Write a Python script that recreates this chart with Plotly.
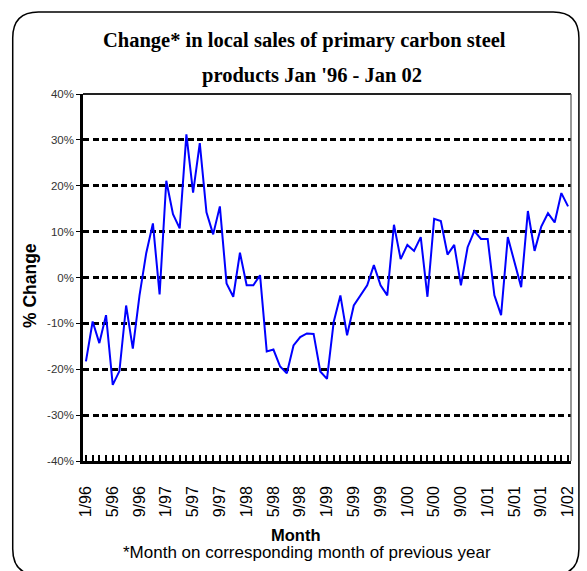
import plotly.graph_objects as go

# monthly % change, Jan 1996 .. Jan 2002 (73 months)
change = [
    -18.3, -9.6, -14.3, -8.2, -23.4, -20.4, -6.1, -15.5, -3.9, 5.3, 11.8, -3.7,
    21.1, 13.8, 10.7, 31.2, 18.5, 29.3, 14.2, 9.4, 15.5, -1.3, -4.2, 5.4,
    -1.7, -1.7, 0.5, -16.1, -15.7, -19.4, -20.9, -14.8, -13.0, -12.2, -12.3, -20.5,
    -22.1, -9.7, -3.9, -12.6, -6.1, -3.9, -1.7, 2.7, -1.7, -3.9, 11.5, 4.0,
    7.1, 5.8, 8.8, -4.2, 12.8, 12.3, 5.0, 7.1, -1.7, 6.6, 10.1, 8.4,
    8.4, -3.9, -8.2, 8.8, 3.4, -2.1, 14.5, 5.8, 11.1, 14.0, 12.0, 18.4, 15.5,
]
months = list(range(len(change)))
tick_idx = list(range(0, 73, 4))
tick_labels = ["1/96", "5/96", "9/96", "1/97", "5/97", "9/97", "1/98", "5/98", "9/98",
               "1/99", "5/99", "9/99", "1/00", "5/00", "9/00", "1/01", "5/01", "9/01", "1/02"]
y_ticks = [-40, -30, -20, -10, 0, 10, 20, 30, 40]
y_labels = ["-40%", "-30%", "-20%", "-10%", "0%", "10%", "20%", "30%", "40%"]

W, H = 587, 571
L, R, T, B = 83, 11, 94, 110
pw, ph = W - L - R, H - T - B

def px(x):
    return (x - L) / pw

def py(y):
    return (H - B - y) / ph

fig = go.Figure()
fig.add_trace(go.Scatter(x=months, y=change, mode="lines",
                         line=dict(color="#0000FF", width=2), showlegend=False))

# rounded outer frame
x0, x1, y0, y1, r = 12, 584, 12, 575, 26
path = (f"M {px(x0+r)},{py(y0)} L {px(x1-r)},{py(y0)} Q {px(x1)},{py(y0)} {px(x1)},{py(y0+r)} "
        f"L {px(x1)},{py(y1-r)} Q {px(x1)},{py(y1)} {px(x1-r)},{py(y1)} "
        f"L {px(x0+r)},{py(y1)} Q {px(x0)},{py(y1)} {px(x0)},{py(y1-r)} "
        f"L {px(x0)},{py(y0+r)} Q {px(x0)},{py(y0)} {px(x0+r)},{py(y0)} Z")
shapes = [
    dict(type="path", path=path, xref="paper", yref="paper", line=dict(color="black", width=1.5)),
    dict(type="line", xref="paper", yref="paper", x0=0, x1=1, y0=1, y1=1, line=dict(color="#222", width=2)),
    dict(type="line", xref="paper", yref="paper", x0=1, x1=1, y0=0, y1=1, line=dict(color="#555", width=1.2)),
]

annotations = [
    dict(text="<b>Change* in local sales of primary carbon steel</b>", x=px(307), y=py(40),
         xref="paper", yref="paper", showarrow=False, xanchor="center", yanchor="middle",
         font=dict(family="Liberation Serif", size=20.5, color="black")),
    dict(text="<b>products Jan '96 - Jan 02</b>", x=px(314), y=py(75),
         xref="paper", yref="paper", showarrow=False, xanchor="center", yanchor="middle",
         font=dict(family="Liberation Serif", size=20.5, color="black")),
    dict(text="<b>% Change</b>", x=px(29.5), y=py(286), textangle=-90,
         xref="paper", yref="paper", showarrow=False, xanchor="center", yanchor="middle",
         font=dict(family="Liberation Sans", size=17.5, color="black")),
    dict(text="<b>Month</b>", x=px(298), y=py(535),
         xref="paper", yref="paper", showarrow=False, xanchor="center", yanchor="middle",
         font=dict(family="Liberation Sans", size=16.5, color="black")),
    dict(text="*Month on corresponding month of previous year", x=px(309), y=py(552),
         xref="paper", yref="paper", showarrow=False, xanchor="center", yanchor="middle",
         font=dict(family="Liberation Sans", size=17, color="black")),
]

fig.update_layout(
    width=W, height=H, margin=dict(l=L, r=R, t=T, b=B),
    paper_bgcolor="white", plot_bgcolor="white",
    shapes=shapes, annotations=annotations,
    xaxis=dict(range=[-0.44, 72.44], tickvals=tick_idx, ticktext=tick_labels, tickangle=-90,
               ticks="inside", ticklen=6, tickwidth=1.5, tickcolor="black", ticklabelstandoff=16,
               minor=dict(tickmode="array", tickvals=months, ticks="inside", ticklen=6,
                          tickwidth=1.5, tickcolor="black", showgrid=False),
               showline=True, linecolor="black", linewidth=2.5, showgrid=False, zeroline=False,
               tickfont=dict(family="Liberation Sans", size=16, color="black")),
    yaxis=dict(range=[-40, 40], tickvals=y_ticks, ticktext=y_labels,
               ticks="outside", ticklen=4, tickwidth=1, tickcolor="black",
               showline=True, linecolor="black", linewidth=2.5,
               showgrid=True, gridcolor="black", gridwidth=2.5, griddash="6px,3.5px", zeroline=False,
               tickfont=dict(family="Liberation Sans", size=11.5, color="#333")),
)

fig.write_html("out.html")
